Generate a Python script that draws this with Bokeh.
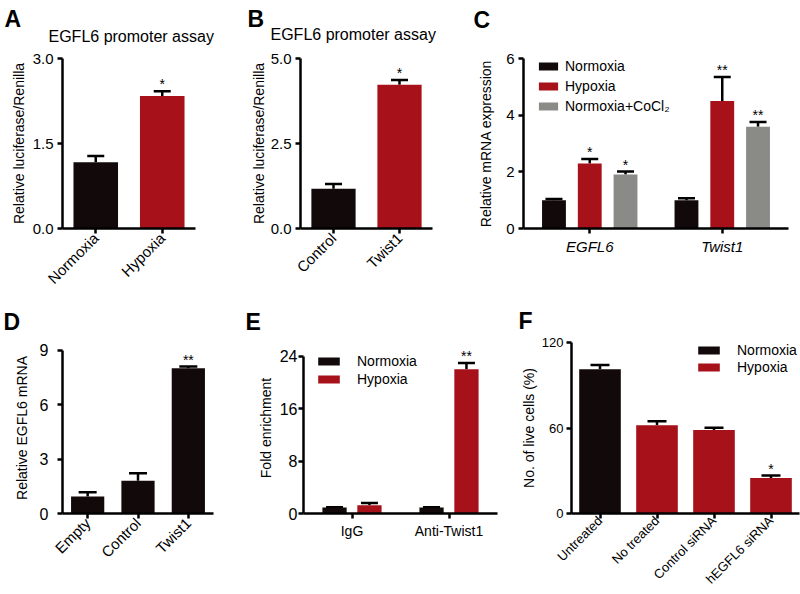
import math
from bokeh.plotting import figure
from bokeh.models import (ColumnDataSource, Range1d, FactorRange, FixedTicker,
                          NumeralTickFormatter, Whisker, TeeHead, Legend, LegendItem, Label)
from bokeh.transform import dodge
from bokeh.layouts import row, column
from bokeh.embed import file_html
from bokeh.resources import INLINE
from bokeh.core.properties import value

FONT = "Liberation Sans"
COLORS = {"Normoxia": "#120a0a", "Hypoxia": "#a6111a", "Normoxia+CoCl₂": "#8a8a86"}

# ---------------- data ----------------
a_cats = ["Normoxia", "Hypoxia"]
a_mean = [1.17, 2.34]
a_err = [0.11, 0.08]
a_sig = ["", "*"]
a_yticks = [0.0, 1.5, 3.0]

b_cats = ["Control", "Twist1"]
b_series = ["Normoxia", "Hypoxia"]
b_mean = [1.17, 4.23]
b_err = [0.14, 0.14]
b_sig = ["", "*"]
b_yticks = [0.0, 2.5, 5.0]

c_genes = ["EGFL6", "Twist1"]
c_series = ["Normoxia", "Hypoxia", "Normoxia+CoCl₂"]
c_norm = [1.00, 1.00]
c_norm_err = [0.04, 0.07]
c_hyp = [2.29, 4.50]
c_hyp_err = [0.16, 0.85]
c_cocl = [1.91, 3.59]
c_cocl_err = [0.10, 0.17]
c_norm_sig = ["", ""]
c_hyp_sig = ["*", "**"]
c_cocl_sig = ["*", "**"]
c_yticks = [0, 2, 4, 6]

d_cats = ["Empty", "Control", "Twist1"]
d_mean = [0.94, 1.81, 8.02]
d_err = [0.23, 0.41, 0.09]
d_sig = ["", "", "**"]
d_yticks = [0, 3, 6, 9]

e_groups = ["IgG", "Anti-Twist1"]
e_series = ["Normoxia", "Hypoxia"]
e_norm = [0.90, 0.90]
e_norm_err = [0.05, 0.05]
e_hyp = [1.25, 22.05]
e_hyp_err = [0.35, 0.95]
e_norm_sig = ["", ""]
e_hyp_sig = ["", "**"]
e_yticks = [0, 8, 16, 24]

f_cats = ["Untreated", "No treated", "Control siRNA", "hEGFL6 siRNA"]
f_series = ["Normoxia", "Hypoxia", "Hypoxia", "Hypoxia"]
f_mean = [101.2, 61.9, 58.6, 24.9]
f_err = [3.0, 2.8, 1.6, 1.7]
f_sig = ["", "", "", "*"]
f_yticks = [0, 60, 120]

title_text = "EGFL6 promoter assay"


# ---------------- helpers ----------------
def base_fig(w, h, factors, yend, borders):
    l, r, t, b = borders
    p = figure(width=w, height=h, x_range=FactorRange(factors=factors),
               y_range=Range1d(0, yend), output_backend="svg",
               toolbar_location=None, tools="", title=None,
               min_border_left=l, min_border_right=r,
               min_border_top=t, min_border_bottom=b)
    p.outline_line_color = None
    p.xgrid.visible = False
    p.ygrid.visible = False
    p.background_fill_color = "white"
    p.border_fill_color = "white"
    return p


def style_axes(p, yticks, yfmt, ylabel, ytick_size, xtick_size, ylab_standoff,
               xrot=None, xitalic=False, ytick_standoff=4, xtick_standoff=2):
    xa = p.xaxis[0]
    ya = p.yaxis[0]
    ya.ticker = FixedTicker(ticks=yticks)
    ya.formatter = NumeralTickFormatter(format=yfmt)
    ya.bounds = (yticks[0], yticks[-1])
    for ax in (xa, ya):
        ax.axis_line_width = 2.5
        ax.axis_line_color = "black"
        ax.major_tick_line_width = 2.5
        ax.major_tick_line_color = "black"
        ax.major_tick_out = 5
        ax.major_tick_in = 0
        ax.minor_tick_line_color = None
        ax.major_label_text_font = FONT
        ax.major_label_text_color = "black"
    ya.major_label_text_font_size = ytick_size
    ya.major_label_standoff = ytick_standoff
    xa.major_label_text_font_size = xtick_size
    xa.major_label_standoff = xtick_standoff
    if xrot is not None:
        xa.major_label_orientation = xrot
    if xitalic:
        xa.major_label_text_font_style = "italic"
    ya.axis_label = ylabel
    ya.axis_label_text_font = FONT
    ya.axis_label_text_font_size = "14px"
    ya.axis_label_text_font_style = "normal"
    ya.axis_label_text_color = "black"
    ya.axis_label_standoff = ylab_standoff


def bars(p, cats, mean, err, sig, series, width, offset=None, cap=17):
    upper = [m + e for m, e in zip(mean, err)]
    src = ColumnDataSource(dict(x=cats, top=mean, upper=upper, sig=sig,
                                color=[COLORS[s] for s in series]))
    xs = "x" if offset is None else dodge("x", offset, range=p.x_range)
    r = p.vbar(x=xs, top="top", bottom=0, width=width, source=src,
               fill_color="color", line_color=None)
    p.add_layout(Whisker(source=src, base=xs, lower="top", upper="upper",
                         line_width=2.5, line_color="black",
                         upper_head=TeeHead(size=cap, line_width=2.5, line_color="black"),
                         lower_head=None))
    p.text(x=xs, y="upper", text="sig", source=src, text_align="center",
           text_baseline="alphabetic", y_offset=-7, text_font=value(FONT),
           text_font_size="14px", text_color="black")
    return r


def legend(p, items, loc, gw, standoff, lh, spacing):
    lg = Legend(items=items, location=loc, glyph_width=gw, glyph_height=10,
                label_standoff=standoff, label_height=lh, spacing=spacing,
                padding=0, margin=0, border_line_color=None,
                background_fill_alpha=0, label_text_font=FONT,
                label_text_font_size="14px", label_text_color="black")
    p.add_layout(lg)


def strip(h):
    # text-only band (panel letters / panel titles); y grows downwards
    s = figure(width=800, height=h, x_range=Range1d(0, 800), y_range=Range1d(h, 0),
               output_backend="svg", toolbar_location=None, tools="", title=None,
               x_axis_location=None, y_axis_location=None, min_border=0)
    s.outline_line_color = None
    s.xgrid.visible = False
    s.ygrid.visible = False
    s.background_fill_color = "white"
    s.border_fill_color = "white"
    return s


def put(s, txt, x, y, size="23px", bold=True):
    s.add_layout(Label(x=x, y=y, text=txt, text_font=FONT, text_font_size=size,
                       text_font_style="bold" if bold else "normal",
                       text_color="black", text_align="left",
                       text_baseline="alphabetic"))


ROT = math.pi / 4

# ---------------- top band ----------------
s1 = strip(48)
put(s1, "A", 4, 18)
put(s1, "B", 247, 18)
put(s1, "C", 473, 19)
put(s1, title_text, 48, 36, size="16px", bold=False)
put(s1, title_text, 270, 34, size="16px", bold=False)

# ---------------- Panel A ----------------
pA = base_fig(243, 252, a_cats, 3.0, (62, 48, 10, 72))
style_axes(pA, a_yticks, "0.0", "Relative luciferase/Renilla", "15px", "15px", 3, xrot=ROT)
bars(pA, a_cats, a_mean, a_err, a_sig, a_cats, 0.67)

# ---------------- Panel B ----------------
pB = base_fig(227, 252, b_cats, 5.0, (57, 38, 10, 72))
style_axes(pB, b_yticks, "0.0", "Relative luciferase/Renilla", "15px", "15px", 1, xrot=ROT)
bars(pB, b_cats, b_mean, b_err, b_sig, b_series, 0.67)

# ---------------- Panel C ----------------
pC = base_fig(330, 252, c_genes, 6, (53, 12, 10, 72))
style_axes(pC, c_yticks, "0", "Relative mRNA expression", "15px", "15px", 9,
           xitalic=True, xtick_standoff=4)
rc1 = bars(pC, c_genes, c_norm, c_norm_err, c_norm_sig, ["Normoxia"] * 2, 0.18, offset=-0.27)
rc2 = bars(pC, c_genes, c_hyp, c_hyp_err, c_hyp_sig, ["Hypoxia"] * 2, 0.18, offset=0.0)
rc3 = bars(pC, c_genes, c_cocl, c_cocl_err, c_cocl_sig, ["Normoxia+CoCl₂"] * 2, 0.18, offset=0.27)
legend(pC, [LegendItem(label=c_series[0], renderers=[rc1]),
            LegendItem(label=c_series[1], renderers=[rc2]),
            LegendItem(label=c_series[2], renderers=[rc3])],
       (13, 114), 24, 5, 15, 4)

# ---------------- middle band ----------------
s2 = strip(34)
put(s2, "D", 3, 21)
put(s2, "E", 245, 21)
put(s2, "F", 518, 20)

# ---------------- Panel D ----------------
# frame shared with the row; axis drawn only up to the top tick
pD = base_fig(243, 260, d_cats, 9.44, (62, 30, 8, 81))
style_axes(pD, d_yticks, "0", "Relative EGFL6 mRNA", "16px", "15px", 7, xrot=ROT,
           ytick_standoff=9)
bars(pD, d_cats, d_mean, d_err, d_sig, ["Normoxia"] * 3, 0.66, cap=18)

# ---------------- Panel E ----------------
pE = base_fig(269, 260, e_groups, 26.14, (60, 15, 8, 81))
style_axes(pE, e_yticks, "0", "Fold enrichment", "16px", "14px", 3,
           ytick_standoff=1, xtick_standoff=4)
re1 = bars(pE, e_groups, e_norm, e_norm_err, e_norm_sig, ["Normoxia"] * 2, 0.25, offset=-0.18)
re2 = bars(pE, e_groups, e_hyp, e_hyp_err, e_hyp_sig, ["Hypoxia"] * 2, 0.25, offset=0.18)
legend(pE, [LegendItem(label=e_series[0], renderers=[re1]),
            LegendItem(label=e_series[1], renderers=[re2])],
       (12, 126), 27, 15, 17, 1)

# ---------------- Panel F ----------------
pF = base_fig(288, 260, f_cats, 120, (59, 1, 8, 81))
style_axes(pF, f_yticks, "0", "No. of live cells (%)", "13px", "13px", 2,
           xrot=ROT, xtick_standoff=0, ytick_standoff=3)
rf = bars(pF, f_cats, f_mean, f_err, f_sig, f_series, 0.73, cap=19)
legend(pF, [LegendItem(label="Normoxia", renderers=[rf], index=0),
            LegendItem(label="Hypoxia", renderers=[rf], index=1)],
       (124, 138), 27, 15, 16, 1)

layout = column(s1, row(pA, pB, pC), s2, row(pD, pE, pF))

open("out.html", "w").write(file_html(layout, INLINE, title="EGFL6 figure"))
